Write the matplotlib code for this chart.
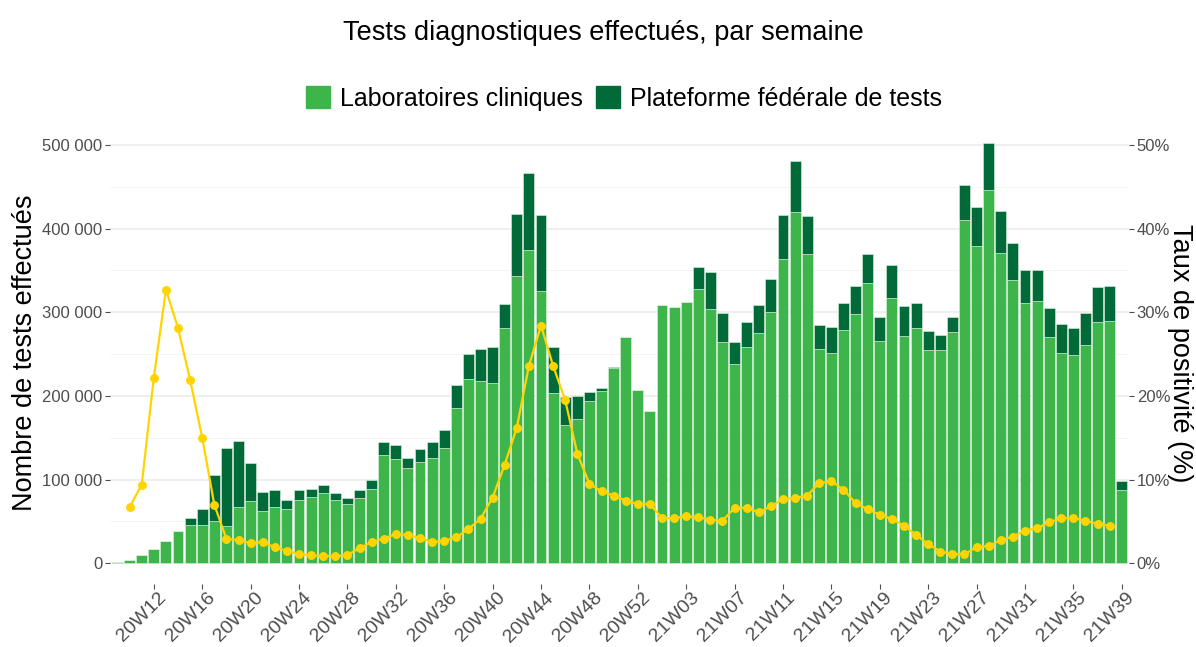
import numpy as np
import matplotlib
matplotlib.use("Agg")
import matplotlib.pyplot as plt
import matplotlib.patches as mpatches
import matplotlib.transforms as mtransforms
from matplotlib.ticker import FuncFormatter, MultipleLocator

plt.rcParams['font.family'] = ['Liberation Sans', 'DejaVu Sans']

# weeks 20W09 .. 20W53, 21W01 .. 21W39
semaines = ['20W%02d' % w for w in range(9, 54)] + ['21W%02d' % w for w in range(1, 40)]

# tests, laboratoires cliniques (milliers)
labo = [1.5, 4, 9.6, 16.7, 26.7, 38, 46.2, 45.4, 51, 44,
        67, 74, 62.5, 67, 65, 75.7, 79, 83.7, 75.3, 71,
        78.5, 89, 129.5, 124.7, 114.3, 121, 126, 138, 186, 220,
        218, 216, 281, 343, 375, 325, 203.6, 165, 173, 194.4,
        205.6, 233, 271, 207, 182,
        308.8, 306.8, 312, 327.5, 303.6, 264, 238, 258.6, 275, 300.8,
        363.7, 420, 369.7, 256, 251.8, 278.9, 297.6, 334.7, 265.3, 317.5,
        272, 281, 255.4, 255.4, 277, 410.8, 378.9, 445.8, 370.9, 338.6,
        311.6, 313, 270.5, 251, 249, 260.6, 288, 290, 88]

# tests, plateforme federale (milliers)
plateforme = [0, 0, 0, 0, 0, 0, 7.6, 19.6, 54.6, 94,
              79, 46, 22.5, 20, 10.7, 11.3, 9.4, 9.9, 9.2, 6.7,
              8.5, 10.6, 15.5, 16.3, 12, 15.7, 19, 21, 27.5, 30.6,
              37.8, 43, 28.6, 75, 92, 91, 55.4, 34, 27, 10.4,
              4.4, 1.7, 0, 0, 0,
              0, 0, 0, 26.5, 44.2, 35, 27, 29.4, 33.8, 38.6,
              52.3, 61, 45, 28.9, 30.2, 31.9, 34.3, 35.3, 29.1, 38.5,
              36, 30.6, 22.6, 17.6, 17, 41.2, 47.1, 56.2, 50.1, 44.4,
              39.4, 38, 35.1, 35.5, 32.7, 38.2, 42.7, 41.9, 10.4]

# taux de positivite (%)
positivite = [np.nan, 6.7, 9.4, 22.2, 32.7, 28.1, 21.9, 15.0, 7.0, 2.9,
              2.8, 2.4, 2.55, 1.9, 1.5, 1.1, 0.96, 0.88, 0.84, 1.0,
              1.8, 2.55, 2.95, 3.5, 3.4, 3.0, 2.55, 2.67, 3.1, 4.1,
              5.3, 7.85, 11.8, 16.2, 23.6, 28.4, 23.6, 19.5, 13.1, 9.5,
              8.6, 8.1, 7.5, 7.1, 7.1,
              5.4, 5.4, 5.6, 5.5, 5.2, 5.1, 6.6, 6.65, 6.1, 6.8,
              7.7, 7.8, 8.1, 9.6, 9.8, 8.8, 7.2, 6.45, 5.8, 5.3,
              4.5, 3.4, 2.3, 1.4, 1.1, 1.1, 1.9, 2.1, 2.75, 3.2,
              3.9, 4.2, 4.9, 5.4, 5.4, 5.1, 4.7, 4.5, np.nan]

labo = np.array(labo) * 1000
plateforme = np.array(plateforme) * 1000
x = np.arange(len(semaines))

vert_clair = '#3DB54A'
vert_fonce = '#006A38'
jaune = '#FFD400'
gris = '#4D4D4D'

fig = plt.figure(figsize=(11.96, 6.47), dpi=100)
ax = fig.add_axes([0.092, 0.0974, 0.852, 0.714])

ax.bar(x, labo, width=0.9, color=vert_clair, edgecolor='#dff2df', linewidth=0.4, zorder=2)
ax.bar(x, plateforme, bottom=labo, width=0.9, color=vert_fonce, edgecolor='#dff2df', linewidth=0.4, zorder=2)

ax.set_xlim(-0.62, 83.6)
ax.set_ylim(-24740, 527400)
ax.yaxis.set_major_locator(MultipleLocator(100000))
ax.yaxis.set_minor_locator(MultipleLocator(50000))
ax.yaxis.set_major_formatter(FuncFormatter(lambda v, p: '{:,.0f}'.format(v).replace(',', ' ')))
ax.grid(axis='y', which='major', color='#EBEBEB', linewidth=1.1, zorder=0)
ax.grid(axis='y', which='minor', color='#F4F4F4', linewidth=0.6, zorder=0)
ax.set_axisbelow(True)

tick_pos = [i for i, s in enumerate(semaines) if s in
            ['20W%02d' % w for w in range(12, 54, 4)] + ['21W%02d' % w for w in range(3, 40, 4)]]
ax.set_xticks(tick_pos)
ax.set_xticklabels([semaines[i] for i in tick_pos], rotation=45, ha='right', va='top',
                   rotation_mode='anchor', fontsize=14, color=gris)
ax.tick_params(axis='x', length=3.5, width=0.8, color=gris, pad=4)
# nudge the rotated labels up/right like the original
decal = mtransforms.ScaledTranslation(0.04, 0.05, fig.dpi_scale_trans)
for lab in ax.get_xticklabels():
    lab.set_transform(lab.get_transform() + decal)
ax.tick_params(axis='y', which='major', length=3.5, width=0.8, color=gris, labelsize=12,
               labelcolor=gris, pad=2)
ax.tick_params(axis='y', which='minor', length=0)
for s in ax.spines.values():
    s.set_visible(False)

ax2 = ax.twinx()
ax2.plot(x, positivite, color=jaune, linewidth=1.6, marker='o', markersize=5.4, zorder=3)
ax2.set_ylim(-2.474, 52.74)
ax2.set_yticks([0, 10, 20, 30, 40, 50])
ax2.yaxis.set_major_formatter(FuncFormatter(lambda v, p: '%d%%' % v))
ax2.tick_params(axis='y', length=3.5, width=0.8, color=gris, labelsize=12, labelcolor=gris, pad=2)
for s in ax2.spines.values():
    s.set_visible(False)

fig.text(0.021, 0.4544, 'Nombre de tests effectués', rotation=90, ha='center', va='center', fontsize=19.5)
fig.text(0.9866, 0.4544, 'Taux de positivité (%)', rotation=270, ha='center', va='center', fontsize=19.5)
fig.text(0.5046, 0.949, 'Tests diagnostiques effectués, par semaine', ha='center', va='center', fontsize=19.5)

p1 = mpatches.Patch(color=vert_clair, label='Laboratoires cliniques')
p2 = mpatches.Patch(color=vert_fonce, label='Plateforme fédérale de tests')
fig.legend(handles=[p1, p2], loc='center', bbox_to_anchor=(0.5217, 0.848), ncol=2,
           frameon=False, fontsize=18, handlelength=0.96, handleheight=1.0,
           handletextpad=0.4, columnspacing=0.5, borderpad=0)

fig.savefig('out.png', dpi=100)
